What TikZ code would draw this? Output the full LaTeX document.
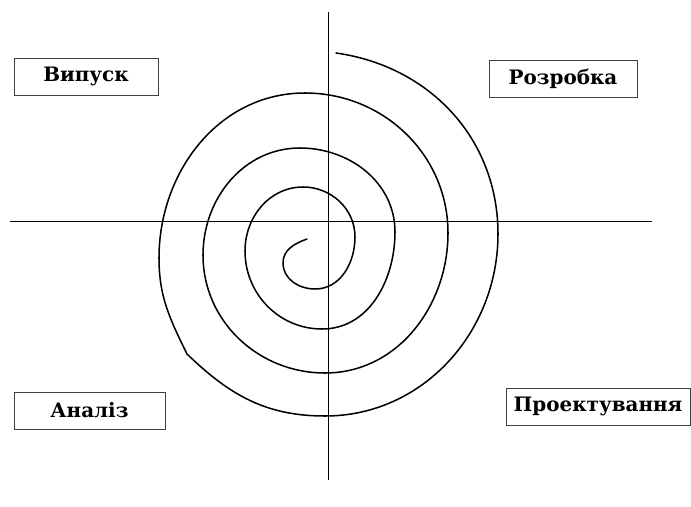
\documentclass[tikz,border=0pt]{standalone}
\usepackage{fontspec}
\setmainfont{DejaVu Serif}
\usepackage{tikz}
\usetikzlibrary{shadows}
\tikzset{
  phase/.style={draw=black!75, fill=white, line width=0.5pt, inner sep=0pt,
                minimum height=1.1cm, font=\fontsize{17}{19}\selectfont\bfseries,
                drop shadow={shadow xshift=0.8pt, shadow yshift=-0.8pt,
                             fill=black!45, opacity=1}},
  axis/.style={line width=0.8pt},
  coil/.style={line width=1.3pt, line cap=round, line join=round},
}

\begin{document}
\begin{tikzpicture}[x=0.03cm, y=0.03cm]
  \useasboundingbox (0,0) rectangle (691,-507);
  % axes
  \coordinate (top) at (328,-12);
  \coordinate (bottom) at (328,-480);
  \coordinate (left) at (10,-221);
  \coordinate (right) at (652,-221);
  \draw[axis] (top) -- (bottom);
  \draw[axis] (left) -- (right);
  % spiral, quarter by quarter
  \draw[coil] (307,-239) to[out=200, in=90] (283,-263)
    to[out=270, in=180] (315,-289) to[out=0, in=270] (355,-237)
    to[out=90, in=0] (303,-187) to[out=180, in=90] (245,-251)
    to[out=270, in=180] (322,-329) to[out=0, in=270] (395,-232)
    to[out=90, in=0] (300,-148) to[out=180, in=90] (203,-255)
    to[out=270, in=180] (325,-373) to[out=0, in=270] (448,-233)
    to[out=90, in=0] (305,-93) to[out=180, in=90] (159,-258)
    to[out=270, in=116] (187,-354) to[out=-44, in=180] (325,-416)
    to[out=0, in=270] (498,-234) to[out=90, in=-8] (336,-53);
  % phases
  \node[phase, minimum width=4.32cm] (release) at (86,-76.5) {Випуск};
  \node[phase, minimum width=4.44cm] (develop) at (563,-79) {Розробка};
  \node[phase, minimum width=4.53cm] (analysis) at (89.5,-410.5) {Аналіз};
  \node[phase, minimum width=5.52cm] (design) at (598,-406.5) {Проектування};
\end{tikzpicture}
\end{document}
